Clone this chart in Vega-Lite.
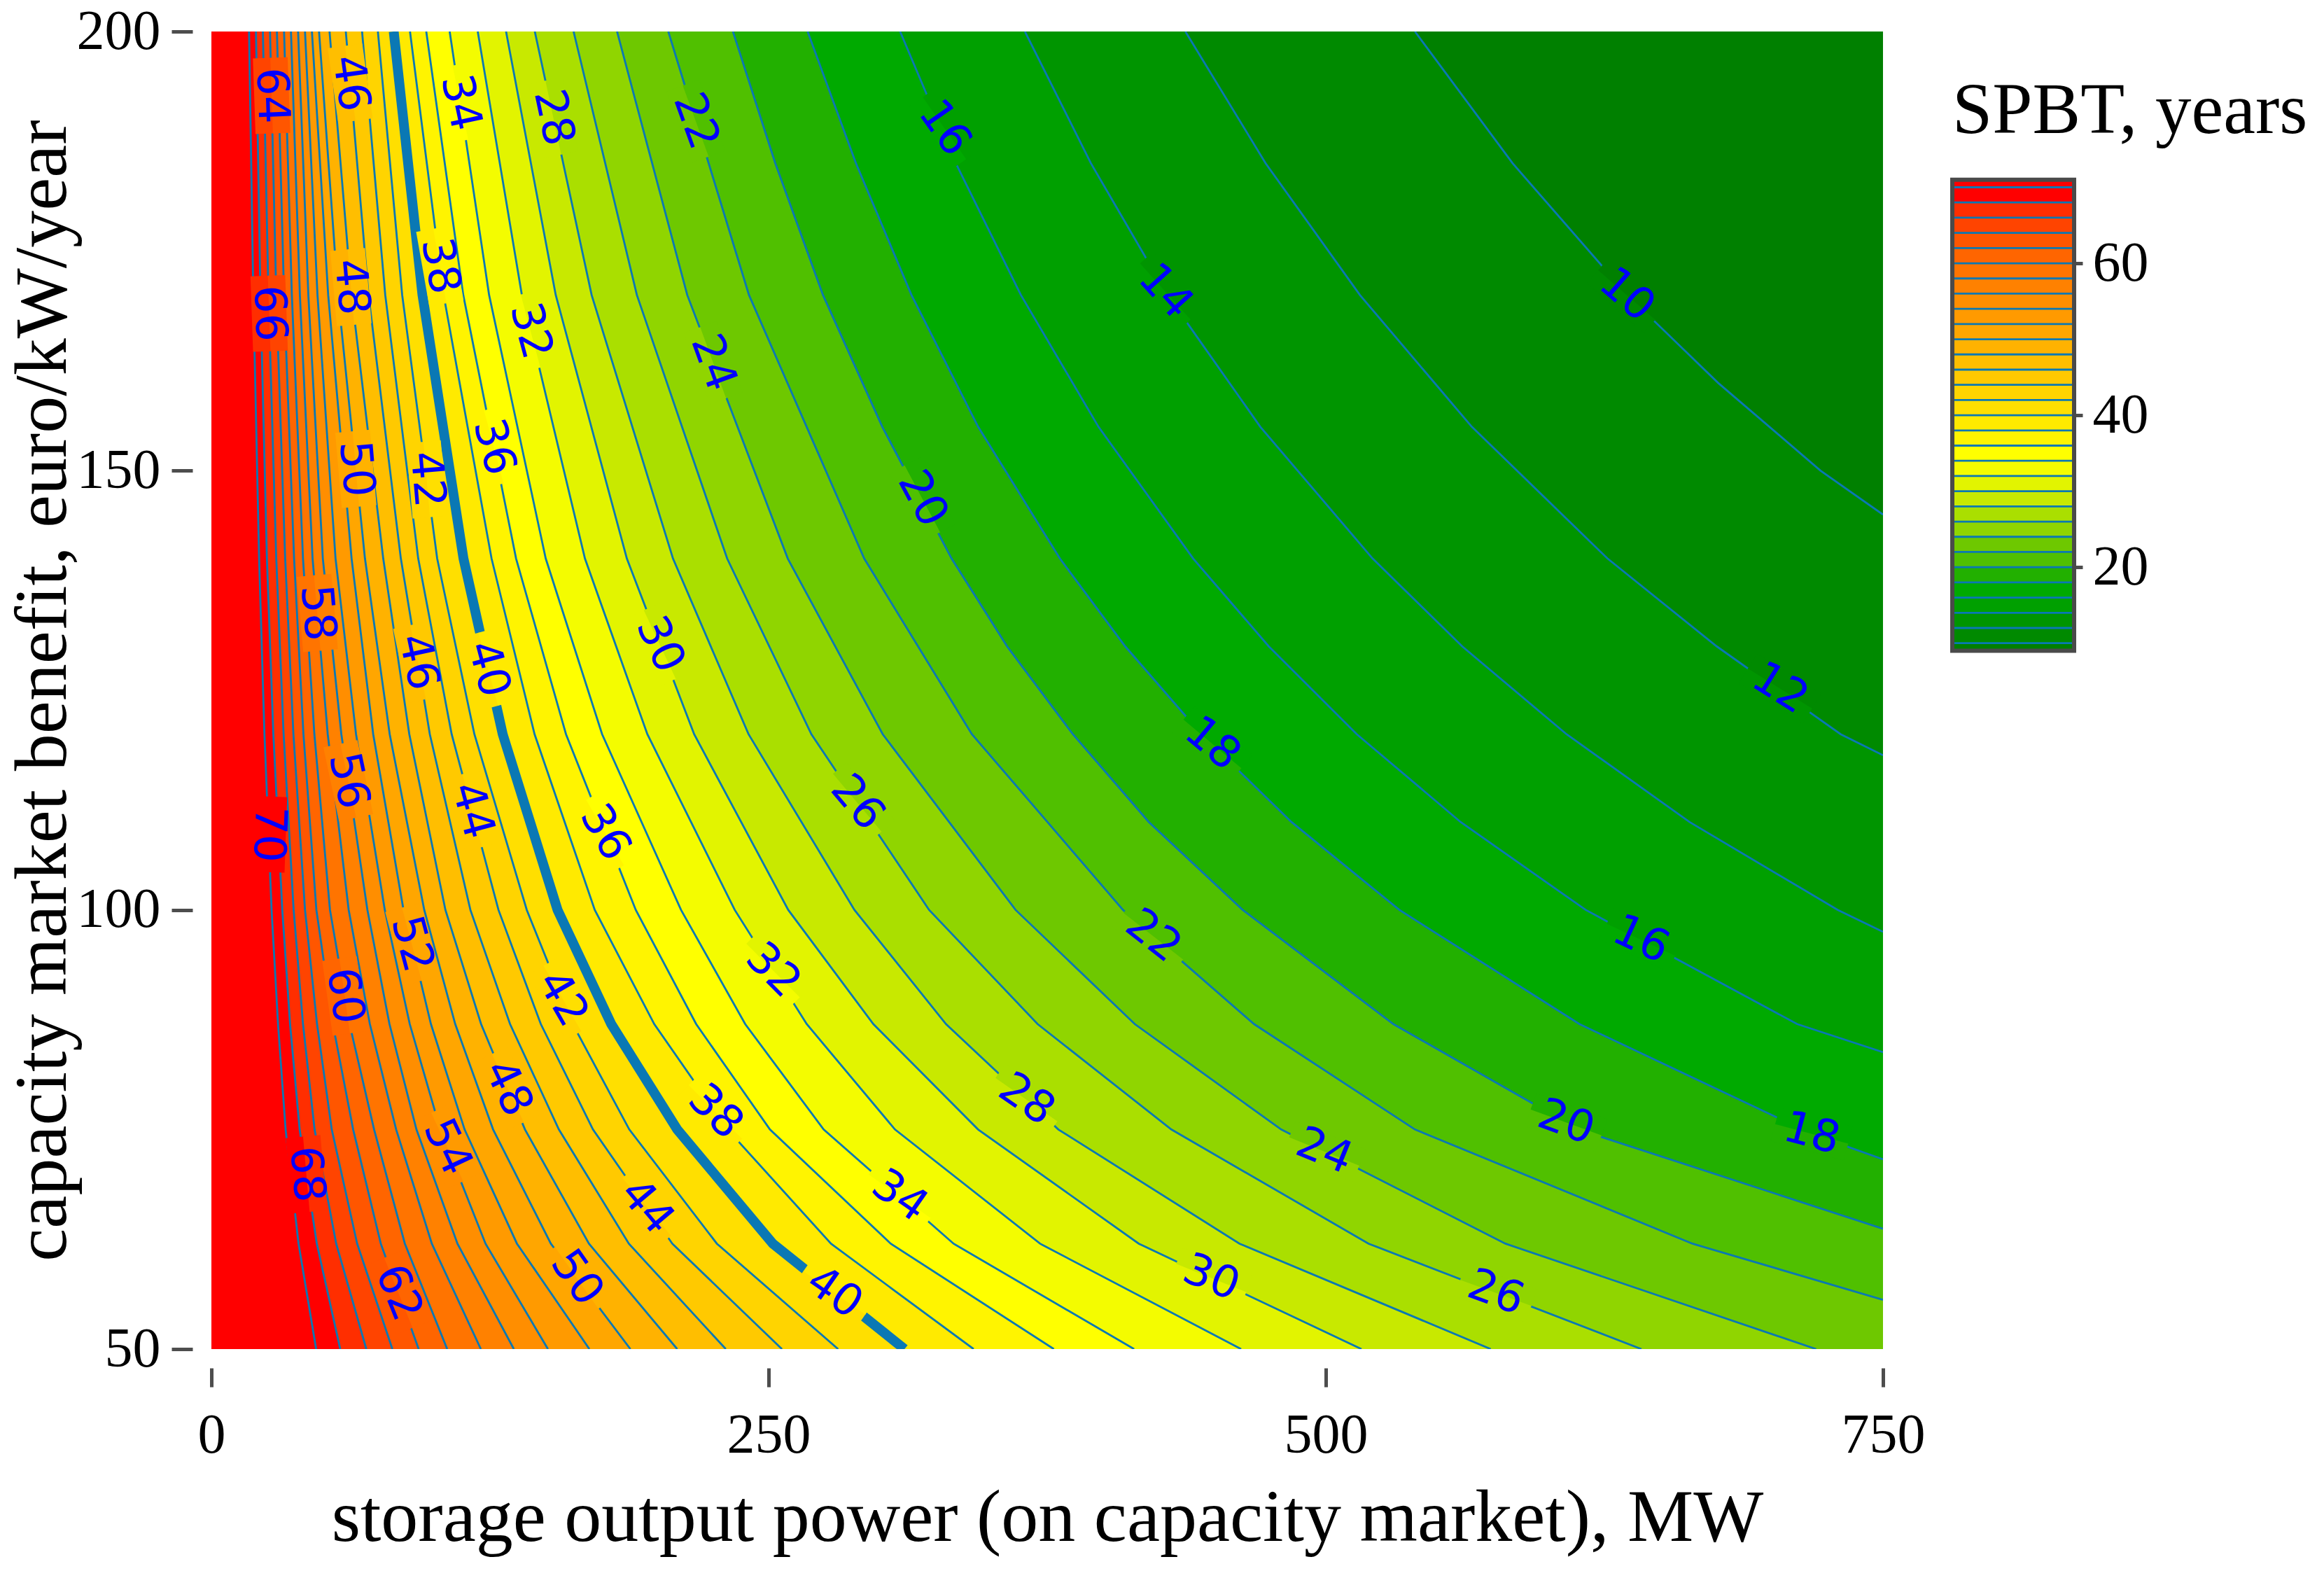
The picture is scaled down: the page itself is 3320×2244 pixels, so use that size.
{
"$schema":"https://vega.github.io/schema/vega-lite/v6.json",
"background":"white",
"padding":{"left":8,"top":5,"right":0,"bottom":16},
"bounds":"flush",
"spacing":99,
"config":{
"font":"Liberation Serif",
"view":{"stroke":null},
"axis":{"grid":false,"domain":false,"tickColor":"#4d4d4d","tickWidth":5,"labelColor":"#000000","titleColor":"#000000","labelFont":"Liberation Serif","titleFont":"Liberation Serif","labelFontSize":80,"titleFontSize":106,"titleFontWeight":"normal","labelOverlap":false,"labelFlush":false}
},
"datasets":{
"contours":[
{"level":70,"x":16.9,"y":200},{"level":70,"x":18.8,"y":170},{"level":70,"x":21.4,"y":140},{"level":70,"x":23.8,"y":120},{"level":70,"x":27,"y":100},{"level":70,"x":29.9,"y":87},{"level":70,"x":33.3,"y":75},{"level":70,"x":39.1,"y":62},{"level":70,"x":47,"y":50},{"level":70,"x":750,"y":50,"edge":1},
{"level":68,"x":20,"y":200},{"level":68,"x":22,"y":170},{"level":68,"x":24.9,"y":140},{"level":68,"x":27.8,"y":120},{"level":68,"x":31.8,"y":100},{"level":68,"x":35.3,"y":87},{"level":68,"x":39.6,"y":75},{"level":68,"x":47.3,"y":62},{"level":68,"x":57.8,"y":50},{"level":68,"x":750,"y":50,"edge":1},
{"level":66,"x":23.1,"y":200},{"level":66,"x":25.6,"y":170},{"level":66,"x":29.1,"y":140},{"level":66,"x":32.4,"y":120},{"level":66,"x":36.9,"y":100},{"level":66,"x":41.1,"y":87},{"level":66,"x":46.3,"y":75},{"level":66,"x":56,"y":62},{"level":66,"x":69.5,"y":50},{"level":66,"x":750,"y":50,"edge":1},
{"level":64,"x":26.3,"y":200},{"level":64,"x":29.1,"y":170},{"level":64,"x":33.1,"y":140},{"level":64,"x":36.8,"y":120},{"level":64,"x":42,"y":100},{"level":64,"x":47.4,"y":87},{"level":64,"x":54,"y":75},{"level":64,"x":65.4,"y":62},{"level":64,"x":81.2,"y":50},{"level":64,"x":750,"y":50,"edge":1},
{"level":62,"x":29.4,"y":200},{"level":62,"x":32.6,"y":170},{"level":62,"x":37.1,"y":140},{"level":62,"x":41.3,"y":120},{"level":62,"x":47.1,"y":100},{"level":62,"x":54.5,"y":87},{"level":62,"x":63.6,"y":75},{"level":62,"x":76,"y":62},{"level":62,"x":93,"y":50},{"level":62,"x":750,"y":50,"edge":1},
{"level":60,"x":32.6,"y":200},{"level":60,"x":36.1,"y":170},{"level":60,"x":41.1,"y":140},{"level":60,"x":46.2,"y":120},{"level":60,"x":53.2,"y":100},{"level":60,"x":62,"y":87},{"level":60,"x":73,"y":75},{"level":60,"x":86.8,"y":62},{"level":60,"x":105.8,"y":50},{"level":60,"x":750,"y":50,"edge":1},
{"level":58,"x":35.7,"y":200},{"level":58,"x":39.7,"y":170},{"level":58,"x":45.4,"y":140},{"level":58,"x":52.2,"y":120},{"level":58,"x":61.6,"y":100},{"level":58,"x":71.1,"y":87},{"level":58,"x":82.9,"y":75},{"level":58,"x":98.9,"y":62},{"level":58,"x":120.9,"y":50},{"level":58,"x":750,"y":50,"edge":1},
{"level":56,"x":38.9,"y":200},{"level":56,"x":43.5,"y":170},{"level":56,"x":50,"y":140},{"level":56,"x":58.3,"y":120},{"level":56,"x":70,"y":100},{"level":56,"x":79.9,"y":87},{"level":56,"x":92,"y":75},{"level":56,"x":110.4,"y":62},{"level":56,"x":135.7,"y":50},{"level":56,"x":750,"y":50,"edge":1},
{"level":54,"x":42,"y":200},{"level":54,"x":47.6,"y":170},{"level":54,"x":55.7,"y":140},{"level":54,"x":64.9,"y":120},{"level":54,"x":77.8,"y":100},{"level":54,"x":89,"y":87},{"level":54,"x":102.7,"y":75},{"level":54,"x":123,"y":62},{"level":54,"x":151,"y":50},{"level":54,"x":750,"y":50,"edge":1},
{"level":52,"x":45.1,"y":200},{"level":52,"x":52.4,"y":170},{"level":52,"x":62.9,"y":140},{"level":52,"x":72.6,"y":120},{"level":52,"x":86.2,"y":100},{"level":52,"x":98.5,"y":87},{"level":52,"x":113.6,"y":75},{"level":52,"x":137.1,"y":62},{"level":52,"x":169.6,"y":50},{"level":52,"x":750,"y":50,"edge":1},
{"level":50,"x":48.3,"y":200},{"level":50,"x":56.8,"y":170},{"level":50,"x":68.9,"y":140},{"level":50,"x":80,"y":120},{"level":50,"x":95.5,"y":100},{"level":50,"x":109.4,"y":87},{"level":50,"x":126.4,"y":75},{"level":50,"x":152.3,"y":62},{"level":50,"x":188,"y":50},{"level":50,"x":750,"y":50,"edge":1},
{"level":48,"x":53,"y":200},{"level":48,"x":62.9,"y":170},{"level":48,"x":77.1,"y":140},{"level":48,"x":88.8,"y":120},{"level":48,"x":105,"y":100},{"level":48,"x":121,"y":87},{"level":48,"x":140.7,"y":75},{"level":48,"x":169.4,"y":62},{"level":48,"x":209,"y":50},{"level":48,"x":750,"y":50,"edge":1},
{"level":46,"x":60.3,"y":200},{"level":46,"x":70.5,"y":170},{"level":46,"x":85,"y":140},{"level":46,"x":98,"y":120},{"level":46,"x":116.2,"y":100},{"level":46,"x":134,"y":87},{"level":46,"x":155.9,"y":75},{"level":46,"x":187.3,"y":62},{"level":46,"x":230.8,"y":50},{"level":46,"x":750,"y":50,"edge":1},
{"level":44,"x":67.6,"y":200},{"level":44,"x":78,"y":170},{"level":44,"x":92.8,"y":140},{"level":44,"x":107.8,"y":120},{"level":44,"x":128.8,"y":100},{"level":44,"x":147.8,"y":87},{"level":44,"x":171.2,"y":75},{"level":44,"x":206.8,"y":62},{"level":44,"x":256,"y":50},{"level":44,"x":750,"y":50,"edge":1},
{"level":42,"x":74.7,"y":200},{"level":42,"x":85.6,"y":170},{"level":42,"x":101.3,"y":140},{"level":42,"x":118,"y":120},{"level":42,"x":141.5,"y":100},{"level":42,"x":162.1,"y":87},{"level":42,"x":187.5,"y":75},{"level":42,"x":226.8,"y":62},{"level":42,"x":281.2,"y":50},{"level":42,"x":750,"y":50,"edge":1},
{"level":40,"x":81.8,"y":200},{"level":40,"x":94.7,"y":170},{"level":40,"x":113.1,"y":140},{"level":40,"x":130.7,"y":120},{"level":40,"x":155.3,"y":100},{"level":40,"x":179.4,"y":87},{"level":40,"x":209,"y":75},{"level":40,"x":251.9,"y":62},{"level":40,"x":311,"y":50},{"level":40,"x":750,"y":50,"edge":1},
{"level":38,"x":89.1,"y":200},{"level":38,"x":104.2,"y":170},{"level":38,"x":125.7,"y":140},{"level":38,"x":145,"y":120},{"level":38,"x":172,"y":100},{"level":38,"x":198.7,"y":87},{"level":38,"x":231.6,"y":75},{"level":38,"x":278,"y":62},{"level":38,"x":342,"y":50},{"level":38,"x":750,"y":50,"edge":1},
{"level":36,"x":96.4,"y":200},{"level":36,"x":113,"y":170},{"level":36,"x":136.7,"y":140},{"level":36,"x":159.1,"y":120},{"level":36,"x":190.4,"y":100},{"level":36,"x":217.5,"y":87},{"level":36,"x":250.6,"y":75},{"level":36,"x":304.8,"y":62},{"level":36,"x":378,"y":50},{"level":36,"x":750,"y":50,"edge":1},
{"level":34,"x":106.9,"y":200},{"level":34,"x":124.6,"y":170},{"level":34,"x":150,"y":140},{"level":34,"x":175.3,"y":120},{"level":34,"x":210.7,"y":100},{"level":34,"x":239.5,"y":87},{"level":34,"x":274.7,"y":75},{"level":34,"x":333,"y":62},{"level":34,"x":414,"y":50},{"level":34,"x":750,"y":50,"edge":1},
{"level":32,"x":119.5,"y":200},{"level":32,"x":139.3,"y":170},{"level":32,"x":167.6,"y":140},{"level":32,"x":195.6,"y":120},{"level":32,"x":234.8,"y":100},{"level":32,"x":267.1,"y":87},{"level":32,"x":306.7,"y":75},{"level":32,"x":371.8,"y":62},{"level":32,"x":462,"y":50},{"level":32,"x":750,"y":50,"edge":1},
{"level":30,"x":132.2,"y":200},{"level":30,"x":154.5,"y":170},{"level":30,"x":186.4,"y":140},{"level":30,"x":216.6,"y":120},{"level":30,"x":258.8,"y":100},{"level":30,"x":297,"y":87},{"level":30,"x":344,"y":75},{"level":30,"x":416.1,"y":62},{"level":30,"x":516,"y":50},{"level":30,"x":750,"y":50,"edge":1},
{"level":28,"x":145.1,"y":200},{"level":28,"x":170.6,"y":170},{"level":28,"x":207.1,"y":140},{"level":28,"x":241,"y":120},{"level":28,"x":288.5,"y":100},{"level":28,"x":329.6,"y":87},{"level":28,"x":380,"y":75},{"level":28,"x":461.3,"y":62},{"level":28,"x":574,"y":50},{"level":28,"x":750,"y":50,"edge":1},
{"level":26,"x":162.5,"y":200},{"level":26,"x":190.9,"y":170},{"level":26,"x":231.4,"y":140},{"level":26,"x":269.2,"y":120},{"level":26,"x":322,"y":100},{"level":26,"x":370.7,"y":87},{"level":26,"x":430.7,"y":75},{"level":26,"x":519.2,"y":62},{"level":26,"x":641.6,"y":50},{"level":26,"x":750,"y":50,"edge":1},
{"level":24,"x":182,"y":200},{"level":24,"x":213.5,"y":170},{"level":24,"x":258.6,"y":140},{"level":24,"x":301.2,"y":120},{"level":24,"x":360.8,"y":100},{"level":24,"x":414.3,"y":87},{"level":24,"x":480,"y":75},{"level":24,"x":580.6,"y":62},{"level":24,"x":720,"y":50},{"level":24,"x":750,"y":50,"edge":1},
{"level":22,"x":205,"y":200},{"level":22,"x":241.2,"y":170},{"level":22,"x":292.9,"y":140},{"level":22,"x":341.2,"y":120},{"level":22,"x":409,"y":100},{"level":22,"x":467.8,"y":87},{"level":22,"x":540,"y":75},{"level":22,"x":664.5,"y":62},{"level":22,"x":750,"y":55.6},
{"level":20,"x":234,"y":200},{"level":20,"x":253,"y":185},{"level":20,"x":274.4,"y":170},{"level":20,"x":301,"y":155},{"level":20,"x":332.1,"y":140},{"level":20,"x":357,"y":130},{"level":20,"x":386.5,"y":120},{"level":20,"x":420.6,"y":110},{"level":20,"x":462.7,"y":100},{"level":20,"x":530.3,"y":87},{"level":20,"x":613.3,"y":75},{"level":20,"x":750,"y":63.7},
{"level":18,"x":267.5,"y":200},{"level":18,"x":289.2,"y":185},{"level":18,"x":314.1,"y":170},{"level":18,"x":344,"y":155},{"level":18,"x":380.7,"y":140},{"level":18,"x":410,"y":130},{"level":18,"x":444.2,"y":120},{"level":18,"x":484.6,"y":110},{"level":18,"x":533,"y":100},{"level":18,"x":613.8,"y":87},{"level":18,"x":718,"y":74.5},{"level":18,"x":750,"y":71.6},
{"level":16,"x":309,"y":200},{"level":16,"x":334,"y":185},{"level":16,"x":363.2,"y":170},{"level":16,"x":398,"y":155},{"level":16,"x":440.5,"y":140},{"level":16,"x":474.4,"y":130},{"level":16,"x":513.9,"y":120},{"level":16,"x":560.5,"y":110},{"level":16,"x":616.6,"y":100},{"level":16,"x":711.5,"y":87},{"level":16,"x":750,"y":83.8},
{"level":14,"x":365,"y":200},{"level":14,"x":394.6,"y":185},{"level":14,"x":429,"y":170},{"level":14,"x":470.6,"y":155},{"level":14,"x":521,"y":140},{"level":14,"x":561.2,"y":130},{"level":14,"x":608,"y":120},{"level":14,"x":663.2,"y":110},{"level":14,"x":729.7,"y":100},{"level":14,"x":750,"y":97.5},
{"level":12,"x":437,"y":200},{"level":12,"x":473,"y":185},{"level":12,"x":515.3,"y":170},{"level":12,"x":565.5,"y":155},{"level":12,"x":626.4,"y":140},{"level":12,"x":675.4,"y":130},{"level":12,"x":731,"y":120},{"level":12,"x":750,"y":117.6},
{"level":10,"x":540,"y":200},{"level":10,"x":583.8,"y":185},{"level":10,"x":635.3,"y":170},{"level":10,"x":676,"y":160},{"level":10,"x":722,"y":150},{"level":10,"x":750,"y":145}
],
"labels":[
{"level":64,"x":27,"y":192.7,"angle":88},{"level":46,"x":62.3,"y":194.1,"angle":82},{"level":34,"x":111.7,"y":191.9,"angle":78},{"level":28,"x":153.4,"y":190.2,"angle":78},{"level":22,"x":217.3,"y":189.8,"angle":70},{"level":16,"x":328.9,"y":189,"angle":55},
{"level":10,"x":635,"y":170,"angle":41},{"level":14,"x":428,"y":170.4,"angle":48},{"level":12,"x":703.8,"y":125.2,"angle":32},{"level":20,"x":319,"y":146.8,"angle":62},{"level":20,"x":607.8,"y":75.8,"angle":20},
{"level":24,"x":225.1,"y":162.3,"angle":70},{"level":24,"x":499.3,"y":72.5,"angle":22},{"level":18,"x":449.1,"y":118.9,"angle":40},{"level":18,"x":718,"y":74.5,"angle":15},{"level":16,"x":641.4,"y":96.6,"angle":25},
{"level":22,"x":422.6,"y":97,"angle":38},{"level":26,"x":289.8,"y":112.2,"angle":50},{"level":26,"x":576.3,"y":56.4,"angle":20},{"level":28,"x":365.7,"y":78.4,"angle":35},{"level":30,"x":201.2,"y":130.2,"angle":65},{"level":30,"x":448.6,"y":58.1,"angle":22},
{"level":32,"x":143.2,"y":165.9,"angle":75},{"level":32,"x":252,"y":93.1,"angle":45},{"level":34,"x":308.8,"y":67.4,"angle":35},{"level":36,"x":126.7,"y":152.7,"angle":75},{"level":36,"x":176.6,"y":108.8,"angle":60},
{"level":38,"x":102.5,"y":173.3,"angle":80},{"level":38,"x":226.1,"y":77,"angle":45},{"level":40,"x":124.2,"y":127.4,"angle":75},{"level":40,"x":279.5,"y":56.4,"angle":35},{"level":42,"x":96.6,"y":149,"angle":85},{"level":42,"x":157.5,"y":89.9,"angle":60},
{"level":44,"x":117,"y":111.3,"angle":75},{"level":44,"x":195.3,"y":66.2,"angle":50},{"level":46,"x":92.7,"y":128.2,"angle":78},{"level":48,"x":62.6,"y":170.9,"angle":85},{"level":48,"x":133,"y":79.7,"angle":65},{"level":50,"x":64.8,"y":150.2,"angle":85},{"level":50,"x":163.9,"y":58.1,"angle":55},
{"level":52,"x":89.9,"y":96.1,"angle":75},{"level":54,"x":105.8,"y":73,"angle":65},{"level":56,"x":61.4,"y":114.7,"angle":78},{"level":58,"x":47.5,"y":133.8,"angle":85},{"level":60,"x":59.8,"y":90.2,"angle":82},{"level":62,"x":83.9,"y":56.4,"angle":68},
{"level":66,"x":25.9,"y":167.9,"angle":88},{"level":68,"x":42.6,"y":69.9,"angle":85},{"level":70,"x":25.6,"y":108.6,"angle":92}
],
"bands":[
{"level":10,"low":9,"high":10},{"level":12,"low":10,"high":12},{"level":14,"low":12,"high":14},{"level":16,"low":14,"high":16},{"level":18,"low":16,"high":18},{"level":20,"low":18,"high":20},{"level":22,"low":20,"high":22},{"level":24,"low":22,"high":24},{"level":26,"low":24,"high":26},{"level":28,"low":26,"high":28},{"level":30,"low":28,"high":30},{"level":32,"low":30,"high":32},{"level":34,"low":32,"high":34},{"level":36,"low":34,"high":36},{"level":38,"low":36,"high":38},{"level":40,"low":38,"high":40},{"level":42,"low":40,"high":42},{"level":44,"low":42,"high":44},{"level":46,"low":44,"high":46},{"level":48,"low":46,"high":48},{"level":50,"low":48,"high":50},{"level":52,"low":50,"high":52},{"level":54,"low":52,"high":54},{"level":56,"low":54,"high":56},{"level":58,"low":56,"high":58},{"level":60,"low":58,"high":60},{"level":62,"low":60,"high":62},{"level":64,"low":62,"high":64},{"level":66,"low":64,"high":66},{"level":68,"low":66,"high":68},{"level":70,"low":68,"high":70},{"level":72,"low":70,"high":71}
]
},
"hconcat":[
{
"width":2388,
"height":1882,
"view":{"fill":"#ff0000","stroke":null},
"encoding":{
"x":{"field":"x","type":"quantitative","scale":{"domain":[0,750],"nice":false,"zero":false},"axis":{"values":[0,250,500,750],"offset":27,"tickSize":27,"labelPadding":30,"title":"storage output power (on capacity market), MW","titlePadding":26}},
"y":{"field":"y","type":"quantitative","scale":{"domain":[50,200],"nice":false,"zero":false},"axis":{"values":[50,100,150,200],"offset":27,"tickSize":30,"labelPadding":16,"title":"capacity market benefit, euro/kW/year","titlePadding":-6}}
},
"layer":[
{
"data":{"name":"contours"},
"mark":{"type":"area","opacity":1,"clip":true},
"encoding":{
"y2":{"datum":200},
"color":{"field":"level","type":"quantitative","legend":null,"scale":{"domain":[10,12,14,16,18,20,22,24,26,28,30,32,34,36,70],"range":["#008000","#008a00","#009500","#00a000","#00aa00","#22b000","#50c000","#6ec800","#90d500","#aadf00","#c8e900","#e2f400","#f4fc00","#ffff00","#ff0000"],"clamp":true}},
"detail":{"field":"level"}
}
},
{
"data":{"name":"contours"},
"transform":[{"filter":"!datum.edge"}],
"mark":{"type":"line","clip":true,"color":"#0a78b4","opacity":1},
"encoding":{
"detail":{"field":"level"},
"strokeWidth":{"condition":{"test":"datum.level === 40","value":14},"value":2.8}
}
},
{
"data":{"name":"labels"},
"transform":[{"calculate":"datum.level + 2","as":"above"}],
"mark":{"type":"point","filled":true,"opacity":1,"strokeWidth":0,"size":11664,"shape":"M-1,-0.02L1,-0.02L1,0.46L-1,0.46Z"},
"encoding":{
"color":{"field":"above","type":"quantitative","legend":null,"scale":{"domain":[10,12,14,16,18,20,22,24,26,28,30,32,34,36,70],"range":["#008000","#008a00","#009500","#00a000","#00aa00","#22b000","#50c000","#6ec800","#90d500","#aadf00","#c8e900","#e2f400","#f4fc00","#ffff00","#ff0000"],"clamp":true}},
"angle":{"field":"angle","type":"quantitative","scale":null}
}
},
{
"data":{"name":"labels"},
"mark":{"type":"point","filled":true,"opacity":1,"strokeWidth":0,"size":11664,"shape":"M-1,-0.46L1,-0.46L1,0L-1,0Z"},
"encoding":{
"color":{"field":"level","type":"quantitative","legend":null,"scale":{"domain":[10,12,14,16,18,20,22,24,26,28,30,32,34,36,70],"range":["#008000","#008a00","#009500","#00a000","#00aa00","#22b000","#50c000","#6ec800","#90d500","#aadf00","#c8e900","#e2f400","#f4fc00","#ffff00","#ff0000"],"clamp":true}},
"angle":{"field":"angle","type":"quantitative","scale":null}
}
},
{
"data":{"name":"labels"},
"mark":{"type":"text","font":"DejaVu Sans","fontSize":63,"color":"#0000ff","baseline":"middle","align":"center"},
"encoding":{
"text":{"field":"level","type":"quantitative"},
"angle":{"field":"angle","type":"quantitative","scale":null}
}
}
]
},
{
"width":174,
"height":1882,
"encoding":{
"x":{"datum":0,"type":"quantitative","scale":{"domain":[0,1],"nice":false},"axis":null}
},
"layer":[
{
"data":{"name":"bands"},
"mark":{"type":"rect","opacity":1},
"encoding":{
"x2":{"datum":1},
"y":{"field":"low","type":"quantitative","scale":{"domain":[-82.9,90.5],"nice":false,"zero":false},"axis":{"orient":"right","values":[20,40,60],"tickSize":12,"labelPadding":14,"title":null}},
"y2":{"field":"high"},
"color":{"field":"level","type":"quantitative","legend":null,"scale":{"domain":[10,12,14,16,18,20,22,24,26,28,30,32,34,36,70],"range":["#008000","#008a00","#009500","#00a000","#00aa00","#22b000","#50c000","#6ec800","#90d500","#aadf00","#c8e900","#e2f400","#f4fc00","#ffff00","#ff0000"],"clamp":true}}
}
},
{
"data":{"name":"bands"},
"transform":[{"filter":"datum.level <= 70"}],
"mark":{"type":"rule","color":"#0a78b4","strokeWidth":2.8},
"encoding":{
"x":{"datum":0},
"x2":{"datum":1},
"y":{"field":"level","type":"quantitative"}
}
},
{
"data":{"values":[{"low":9,"high":71}]},
"mark":{"type":"rect","fillOpacity":0,"stroke":"#4a4a4a","strokeWidth":6},
"encoding":{
"x2":{"datum":1},
"y":{"field":"low","type":"quantitative"},
"y2":{"field":"high"}
}
},
{
"data":{"values":[{"name":"SPBT, years","y":77.1}]},
"mark":{"type":"text","align":"left","baseline":"alphabetic","fontSize":103,"font":"Liberation Serif","color":"#000000"},
"encoding":{
"y":{"field":"y","type":"quantitative"},
"text":{"field":"name"}
}
}
]
}
]
}
